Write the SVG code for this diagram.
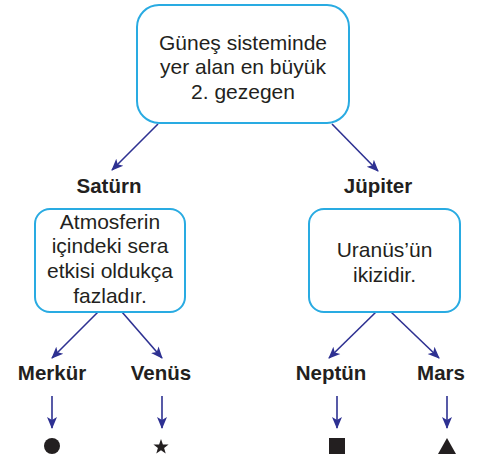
<svg xmlns="http://www.w3.org/2000/svg" width="480" height="459" viewBox="0 0 480 459">
<defs>
<style>
.box{fill:#fff;stroke:#29abe2;stroke-width:2}
.t{font-family:"Liberation Sans",Arial,sans-serif;font-size:21px;fill:#231f20;text-anchor:middle}
.b{font-family:"Liberation Sans",Arial,sans-serif;font-size:20.5px;font-weight:bold;fill:#231f20;text-anchor:middle}
.c{stroke:#2e3192;stroke-width:1.6;fill:none;marker-end:url(#ah)}
.s{fill:#231f20}
</style>
<marker id="ah" markerUnits="userSpaceOnUse" markerWidth="12" markerHeight="12" viewBox="0 0 12 12" refX="11" refY="6" orient="auto">
<path d="M0,1 L12,6 L0,11 L3,6 z" fill="#2e3192"/>
</marker>
</defs>
<rect width="480" height="459" fill="#fff"/>
<g id="connectors">
<line class="c" x1="158" y1="124" x2="112" y2="170"/>
<line class="c" x1="332" y1="124" x2="378" y2="171"/>
<line class="c" x1="98" y1="312" x2="52" y2="358"/>
<line class="c" x1="122" y1="312" x2="162" y2="358"/>
<line class="c" x1="376" y1="312" x2="329" y2="358"/>
<line class="c" x1="391" y1="312" x2="439" y2="358"/>
<line class="c" x1="52" y1="396" x2="52" y2="428"/>
<line class="c" x1="162" y1="396" x2="162" y2="428"/>
<line class="c" x1="337" y1="396" x2="337" y2="428"/>
<line class="c" x1="447" y1="396" x2="447" y2="428"/>
</g>
<g id="top">
<rect class="box" x="137" y="5" width="212" height="118" rx="22"/>
<text class="t" x="243" y="50">Güneş sisteminde</text>
<text class="t" x="243" y="74">yer alan en büyük</text>
<text class="t" x="243" y="99">2. gezegen</text>
</g>
<g id="saturn">
<text class="b" x="109" y="193">Satürn</text>
</g>
<g id="jupiter">
<text class="b" x="378" y="193">Jüpiter</text>
</g>
<g id="saturn-box">
<rect class="box" x="35" y="209" width="150" height="103" rx="15"/>
<text class="t" x="110" y="229">Atmosferin</text>
<text class="t" x="110" y="253">içindeki sera</text>
<text class="t" x="110" y="278">etkisi oldukça</text>
<text class="t" x="110" y="303">fazladır.</text>
</g>
<g id="jupiter-box">
<rect class="box" x="309" y="209" width="151" height="103" rx="15"/>
<text class="t" x="384.5" y="257">Uranüs’ün</text>
<text class="t" x="384.5" y="282">ikizidir.</text>
</g>
<g id="merkur">
<text class="b" x="52" y="380">Merkür</text>
<circle class="s" cx="52" cy="446" r="8"/>
</g>
<g id="venus">
<text class="b" x="161" y="380">Venüs</text>
<path class="s" d="M161,439 L162.9,444.4 L168.6,444.5 L164.1,447.9 L165.7,453.4 L161,450.2 L156.3,453.4 L157.9,447.9 L153.4,444.5 L159.1,444.4 Z"/>
</g>
<g id="neptun">
<text class="b" x="331" y="380">Neptün</text>
<rect class="s" x="329" y="438" width="16" height="16"/>
</g>
<g id="mars">
<text class="b" x="441" y="380">Mars</text>
<path class="s" d="M447,438 L456,454 L438,454 Z"/>
</g>
</svg>
